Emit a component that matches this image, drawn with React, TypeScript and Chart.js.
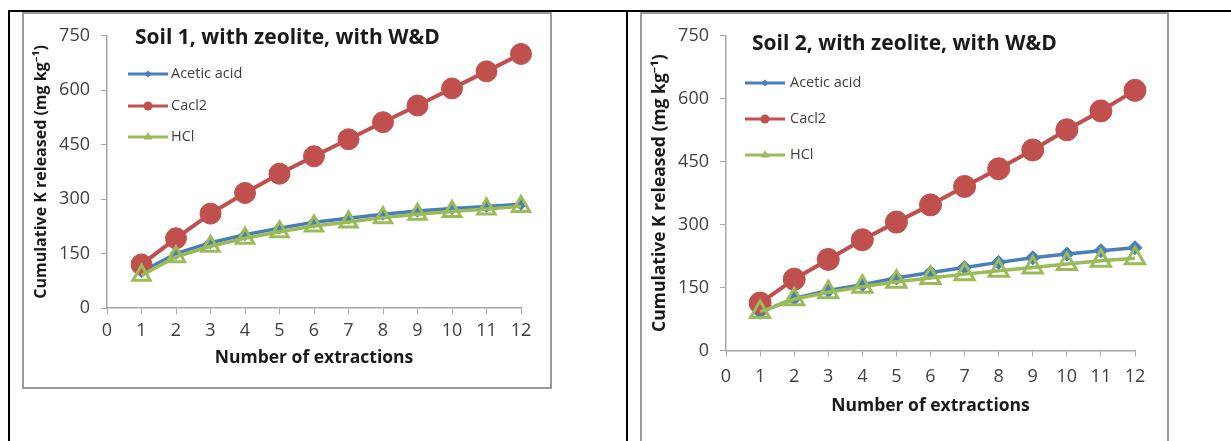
import React, { useEffect, useRef } from 'react';
import { Chart, registerables } from 'chart.js';

Chart.register(...registerables);

// ---- data ----
const extractions = [1, 2, 3, 4, 5, 6, 7, 8, 9, 10, 11, 12];
const seriesNames = ['Acetic acid', 'Cacl2', 'HCl'];
const chartTitles = ['Soil 1, with zeolite, with W&D', 'Soil 2, with zeolite, with W&D'];
const xAxisTitle = 'Number of extractions';
const yAxisTitle = 'Cumulative K released (mg kg\u207B\u00B9)';
const yTickValues = [0, 150, 300, 450, 600, 750];

const soil1Acetic = [100, 150, 180, 202, 220, 236, 247, 258, 267, 274, 280, 286];
const soil1Cacl2 = [120, 192, 260, 317, 370, 418, 465, 512, 558, 605, 652, 700];
const soil1HCl = [90, 141, 170, 192, 210, 226, 237, 249, 258, 266, 273, 280];

const soil2Acetic = [91, 124, 143, 157, 173, 186, 198, 210, 221, 230, 238, 245];
const soil2Cacl2 = [113, 170, 217, 264, 306, 347, 391, 433, 478, 526, 571, 620];
const soil2HCl = [92, 122, 139, 152, 164, 173, 182, 190, 198, 206, 214, 220];

// ---- styles ----
const BLUE = '#4A7EBB';
const RED = '#C0504D';
const GREEN = '#9BBB59';
const FONT = '"Open Sans", "Noto Sans", sans-serif';

type Geo = {
  left: number; top: number; width: number; height: number;
  yWidth: number; padRight: number; padTop: number; xHeight: number;
  xTickPad: number; xTitlePadBottom: number; yTitlePadTop: number;
  yTitleSize: number; xTitleSize: number; tickSize: number;
  titleX: number; titleY: number; titleSize: number;
  legLine: [number, number]; legText: number; legRows: number[];
  circleR: number; triR: number; diaR: number;
};

const geo1: Geo = {
  left: 24, top: 14, width: 526, height: 372,
  yWidth: 83, padRight: 29, padTop: 14, xHeight: 78,
  xTickPad: 6, xTitlePadBottom: 17, yTitlePadTop: 8,
  yTitleSize: 16, xTitleSize: 17.5, tickSize: 18,
  titleX: 111, titleY: 24, titleSize: 21,
  legLine: [104, 144], legText: 147, legRows: [60, 92, 123],
  circleR: 10.5, triR: 10, diaR: 6,
};

const geo2: Geo = {
  left: 642, top: 14, width: 524, height: 420,
  yWidth: 84, padRight: 31, padTop: 16.5, xHeight: 83.5,
  xTickPad: 9.5, xTitlePadBottom: 17, yTitlePadTop: 7.5,
  yTitleSize: 17.5, xTitleSize: 17.5, tickSize: 18,
  titleX: 110, titleY: 30, titleSize: 21,
  legLine: [103, 143], legText: 148, legRows: [69, 105, 141],
  circleR: 11, triR: 11, diaR: 7,
};

function drawMarker(ctx: CanvasRenderingContext2D, kind: number, x: number, y: number, r: number, color: string) {
  ctx.beginPath();
  if (kind === 0) {
    ctx.moveTo(x, y - r); ctx.lineTo(x + r, y); ctx.lineTo(x, y + r); ctx.lineTo(x - r, y); ctx.closePath();
  } else if (kind === 1) {
    ctx.arc(x, y, r, 0, Math.PI * 2);
  } else {
    ctx.moveTo(x, y - r); ctx.lineTo(x + r * 0.866, y + r * 0.5); ctx.lineTo(x - r * 0.866, y + r * 0.5); ctx.closePath();
  }
  ctx.fillStyle = color;
  ctx.fill();
}

function makeDeco(g: Geo, title: string) {
  return {
    id: 'deco',
    afterDraw(chart: any) {
      const ctx: CanvasRenderingContext2D = chart.ctx;
      ctx.save();
      ctx.textBaseline = 'middle';
      ctx.textAlign = 'left';
      ctx.font = `bold ${g.titleSize}px ${FONT}`;
      ctx.fillStyle = '#1a1a1a';
      ctx.fillText(title, g.titleX, g.titleY);
      const colors = [BLUE, RED, GREEN];
      const sizes = [3.5, 4.5, 5];
      seriesNames.forEach((name, i) => {
        const y = g.legRows[i];
        ctx.strokeStyle = colors[i];
        ctx.lineWidth = 3;
        ctx.beginPath();
        ctx.moveTo(g.legLine[0], y);
        ctx.lineTo(g.legLine[1], y);
        ctx.stroke();
        drawMarker(ctx, i, (g.legLine[0] + g.legLine[1]) / 2, y, sizes[i], colors[i]);
        ctx.font = `14.5px ${FONT}`;
        ctx.fillStyle = '#404040';
        ctx.fillText(name, g.legText, y);
      });
      ctx.restore();
    },
  };
}

function pts(vals: number[]) {
  return extractions.map((x, i) => ({ x, y: vals[i] }));
}

function buildConfig(g: Geo, title: string, acetic: number[], cacl2: number[], hcl: number[]): any {
  return {
    type: 'line',
    data: {
      datasets: [
        {
          label: seriesNames[0], data: pts(acetic), order: 3, clip: false,
          borderColor: BLUE, backgroundColor: BLUE, borderWidth: 3.5,
          pointStyle: 'rectRot', pointRadius: g.diaR, pointBackgroundColor: BLUE, pointBorderColor: BLUE, pointBorderWidth: 1,
          tension: 0,
        },
        {
          label: seriesNames[1], data: pts(cacl2), order: 2, clip: false,
          borderColor: RED, backgroundColor: RED, borderWidth: 4,
          pointStyle: 'circle', pointRadius: g.circleR, pointBackgroundColor: RED, pointBorderColor: RED, pointBorderWidth: 1,
          tension: 0,
        },
        {
          label: seriesNames[2], data: pts(hcl), order: 1, clip: false,
          borderColor: GREEN, backgroundColor: GREEN, borderWidth: 3.5,
          pointStyle: 'triangle', pointRadius: g.triR, pointBackgroundColor: 'rgba(255,255,255,0)', pointBorderColor: GREEN, pointBorderWidth: 3,
          tension: 0,
        },
      ],
    },
    options: {
      animation: false,
      responsive: false,
      devicePixelRatio: 1,
      events: [],
      layout: { padding: { left: 0, right: g.padRight, top: g.padTop, bottom: 0 } },
      plugins: { legend: { display: false }, tooltip: { enabled: false }, title: { display: false } },
      scales: {
        x: {
          type: 'linear', min: 0, max: 12,
          afterFit: (s: any) => { s.height = g.xHeight; },
          ticks: { stepSize: 1, padding: g.xTickPad, color: '#404040', font: { family: FONT, size: g.tickSize }, maxRotation: 0, autoSkip: false },
          grid: { drawOnChartArea: false, drawTicks: true, tickLength: 6, color: '#A6A6A6' },
          border: { display: true, color: '#A6A6A6', width: 1.5 },
          title: { display: true, text: xAxisTitle, color: '#1a1a1a', font: { family: FONT, size: g.xTitleSize, weight: 'bold' }, padding: { top: 0, bottom: g.xTitlePadBottom } },
        },
        y: {
          type: 'linear', min: 0, max: 750,
          afterFit: (s: any) => { s.width = g.yWidth; },
          afterBuildTicks: (s: any) => { s.ticks = yTickValues.map((v) => ({ value: v })); },
          ticks: { padding: 11, color: '#404040', font: { family: FONT, size: g.tickSize } },
          grid: { drawOnChartArea: false, drawTicks: true, tickLength: 6, color: '#A6A6A6' },
          border: { display: true, color: '#A6A6A6', width: 1.5 },
          title: { display: true, text: yAxisTitle, color: '#1a1a1a', font: { family: FONT, size: g.yTitleSize, weight: 'bold' }, padding: { top: g.yTitlePadTop, bottom: 0 } },
        },
      },
    },
    plugins: [makeDeco(g, title)],
  };
}

function ChartCanvas({ g, title, acetic, cacl2, hcl }: { g: Geo; title: string; acetic: number[]; cacl2: number[]; hcl: number[] }) {
  const ref = useRef<HTMLCanvasElement>(null);
  useEffect(() => {
    if (!ref.current) return;
    const chart = new Chart(ref.current, buildConfig(g, title, acetic, cacl2, hcl));
    return () => chart.destroy();
  }, []);
  return (
    <canvas
      ref={ref}
      width={g.width}
      height={g.height}
      style={{ position: 'absolute', left: g.left, top: g.top, width: g.width, height: g.height }}
    />
  );
}

export default function App() {
  return (
    <div style={{ position: 'absolute', left: 0, top: 0, width: 1231, height: 441, overflow: 'hidden', background: '#fff' }}>
      {/* table borders */}
      <div style={{ position: 'absolute', left: 8, top: 10, width: 1223, height: 2, background: '#000' }} />
      <div style={{ position: 'absolute', left: 8, top: 10, width: 2, height: 431, background: '#000' }} />
      <div style={{ position: 'absolute', left: 626, top: 10, width: 2, height: 431, background: '#000' }} />
      {/* chart frames */}
      <div style={{ position: 'absolute', left: 22, top: 12, width: 530, height: 377, border: '2px solid #9a9a9a', boxSizing: 'border-box', background: '#fff' }} />
      <div style={{ position: 'absolute', left: 640, top: 12, width: 529, height: 470, border: '2px solid #9a9a9a', boxSizing: 'border-box', background: '#fff' }} />
      <ChartCanvas g={geo1} title={chartTitles[0]} acetic={soil1Acetic} cacl2={soil1Cacl2} hcl={soil1HCl} />
      <ChartCanvas g={geo2} title={chartTitles[1]} acetic={soil2Acetic} cacl2={soil2Cacl2} hcl={soil2HCl} />
    </div>
  );
}
